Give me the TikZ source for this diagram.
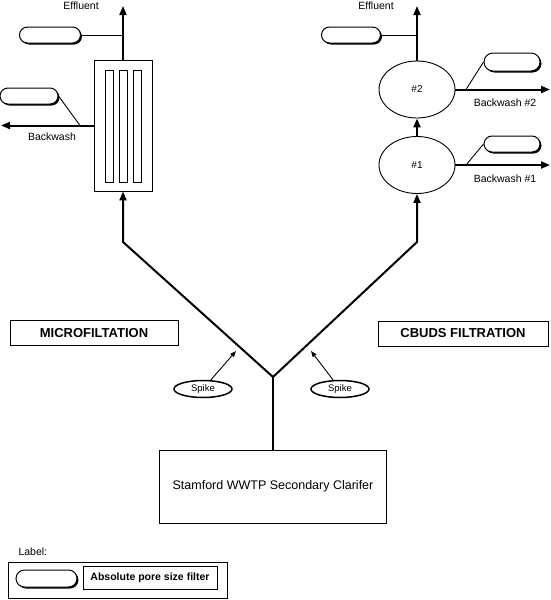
\documentclass[tikz,border=0pt]{standalone}
\usepackage{fontspec}
\setmainfont{Liberation Sans}
\usetikzlibrary{arrows.meta,shapes.misc,shapes.geometric,shadows}
\begin{document}
\begin{tikzpicture}[x=1pt,y=-1pt,
  flow/.style={line width=2pt,line join=round},
  flowarrow/.style={line width=2pt,line join=round,-{Triangle[length=9pt,width=7pt]}},
  thinline/.style={line width=0.9pt},
  pill/.style={rounded rectangle,draw,line width=1pt,fill=white,inner sep=0pt,
    drop shadow={shadow xshift=1.5pt,shadow yshift=-1.5pt,fill=black,opacity=1}},
  txt/.style={font=\fontsize{10.5}{12}\selectfont},
  boldtxt/.style={font=\fontsize{13}{15}\selectfont\bfseries},
  vessel/.style={ellipse,draw,line width=0.9pt,inner sep=0pt,minimum width=76pt,minimum height=57pt,font=\fontsize{10}{12}\selectfont},
  spike/.style={ellipse,draw,line width=1.5pt,inner sep=0pt,minimum width=58pt,minimum height=17pt,font=\fontsize{9.5}{11}\selectfont},
  smallarrow/.style={line width=0.9pt,-{Triangle[length=6pt,width=4.5pt]}}
]
\useasboundingbox (0,0) rectangle (550,600);

% ---------------- Microfiltration column ----------------
\node[draw,thinline,minimum width=58pt,minimum height=131pt,inner sep=0pt] (mf) at (123,125.5) {};
\draw[thinline] (105,70) rectangle (113,182);
\draw[thinline] (119,70) rectangle (127,182);
\draw[thinline] (133,70) rectangle (141,182);

\coordinate (effL) at (123,6);
\draw[flowarrow] (mf.north) -- (effL);
\node[txt] (effLt) at (81,6) {Effluent};

\node[pill,minimum width=61pt,minimum height=16pt] (p1) at (50,35) {};
\coordinate (j1) at (123,35);
\draw[thinline] (p1.east) -- (j1);

\coordinate (bwL) at (1,125.5);
\draw[flowarrow] (mf.west) -- (bwL);
\node[txt] (bwLt) at (52,137) {Backwash};

\node[pill,minimum width=58pt,minimum height=16pt] (p2) at (29,96) {};
\coordinate (j2) at (80,125.5);
\draw[thinline] (p2.east) -- (j2);

% ---------------- CBUDS filters ----------------
\node[vessel] (e2) at (417,89.5) {\#2};
\node[vessel] (e1) at (417,165) {\#1};

\coordinate (effR) at (417,6);
\draw[flowarrow] (e2.north) -- (effR);
\node[txt] (effRt) at (376,6) {Effluent};

\node[pill,minimum width=59pt,minimum height=16pt] (p3) at (351,35) {};
\coordinate (j3) at (417,35);
\draw[thinline] (p3.east) -- (j3);

\draw[flowarrow] (e1.north) -- (e2.south);

\coordinate (bw2) at (550,89.5);
\draw[flowarrow] (e2.east) -- (bw2);
\node[txt] (bw2t) at (505,103) {Backwash \#2};
\node[pill,minimum width=56pt,minimum height=18pt] (p4) at (512,62) {};
\coordinate (j4) at (466,89.5);
\draw[thinline] (p4.west) -- (j4);

\coordinate (bw1) at (550,165);
\draw[flowarrow] (e1.east) -- (bw1);
\node[txt] (bw1t) at (505,179) {Backwash \#1};
\node[pill,minimum width=56pt,minimum height=16pt] (p5) at (512,144) {};
\coordinate (j5) at (466,165);
\draw[thinline] (p5.west) -- (j5);

% ---------------- Feed lines ----------------
\node[draw,thinline,minimum width=227pt,minimum height=73pt,inner sep=0pt,
      font=\fontsize{12.5}{14}\selectfont] (cl) at (273,486.5) {Stamford WWTP Secondary Clarifer};
\coordinate (yj) at (273,377);
\coordinate (yL) at (123,242);
\coordinate (yR) at (417,242);
\draw[flow] (cl.north) -- (yj);
\draw[flowarrow] (yj) -- (yL) -- (mf.south);
\draw[flowarrow] (yj) -- (yR) -- (e1.south);

% Spikes
\node[spike] (s1) at (203,389) {Spike};
\node[spike] (s2) at (340,389) {Spike};
\coordinate (a1) at (236,351);
\coordinate (a2) at (311,351);
\draw[smallarrow] (s1) -- (a1);
\draw[smallarrow] (s2) -- (a2);

% Process labels
\node[draw,thinline,minimum width=168pt,minimum height=25pt,inner sep=0pt,boldtxt] (mfl) at (94,333) {MICROFILTATION};
\node[draw,thinline,minimum width=170pt,minimum height=25pt,inner sep=0pt,boldtxt] (cbl) at (463,333.5) {CBUDS FILTRATION};

% ---------------- Legend ----------------
\node[txt,anchor=west] (lbl) at (15,552) {Label:};
\node[draw,thinline,minimum width=219pt,minimum height=36pt,inner sep=0pt] (lgbox) at (117.5,580) {};
\node[pill,minimum width=61pt,minimum height=17pt] (lgp) at (46.5,578.5) {};
\node[draw,thinline,minimum width=134pt,minimum height=23pt,inner sep=0pt,
      font=\fontsize{10.5}{12}\selectfont\bfseries] (lgt) at (150,577.5) {Absolute pore size filter};
\end{tikzpicture}
\end{document}
